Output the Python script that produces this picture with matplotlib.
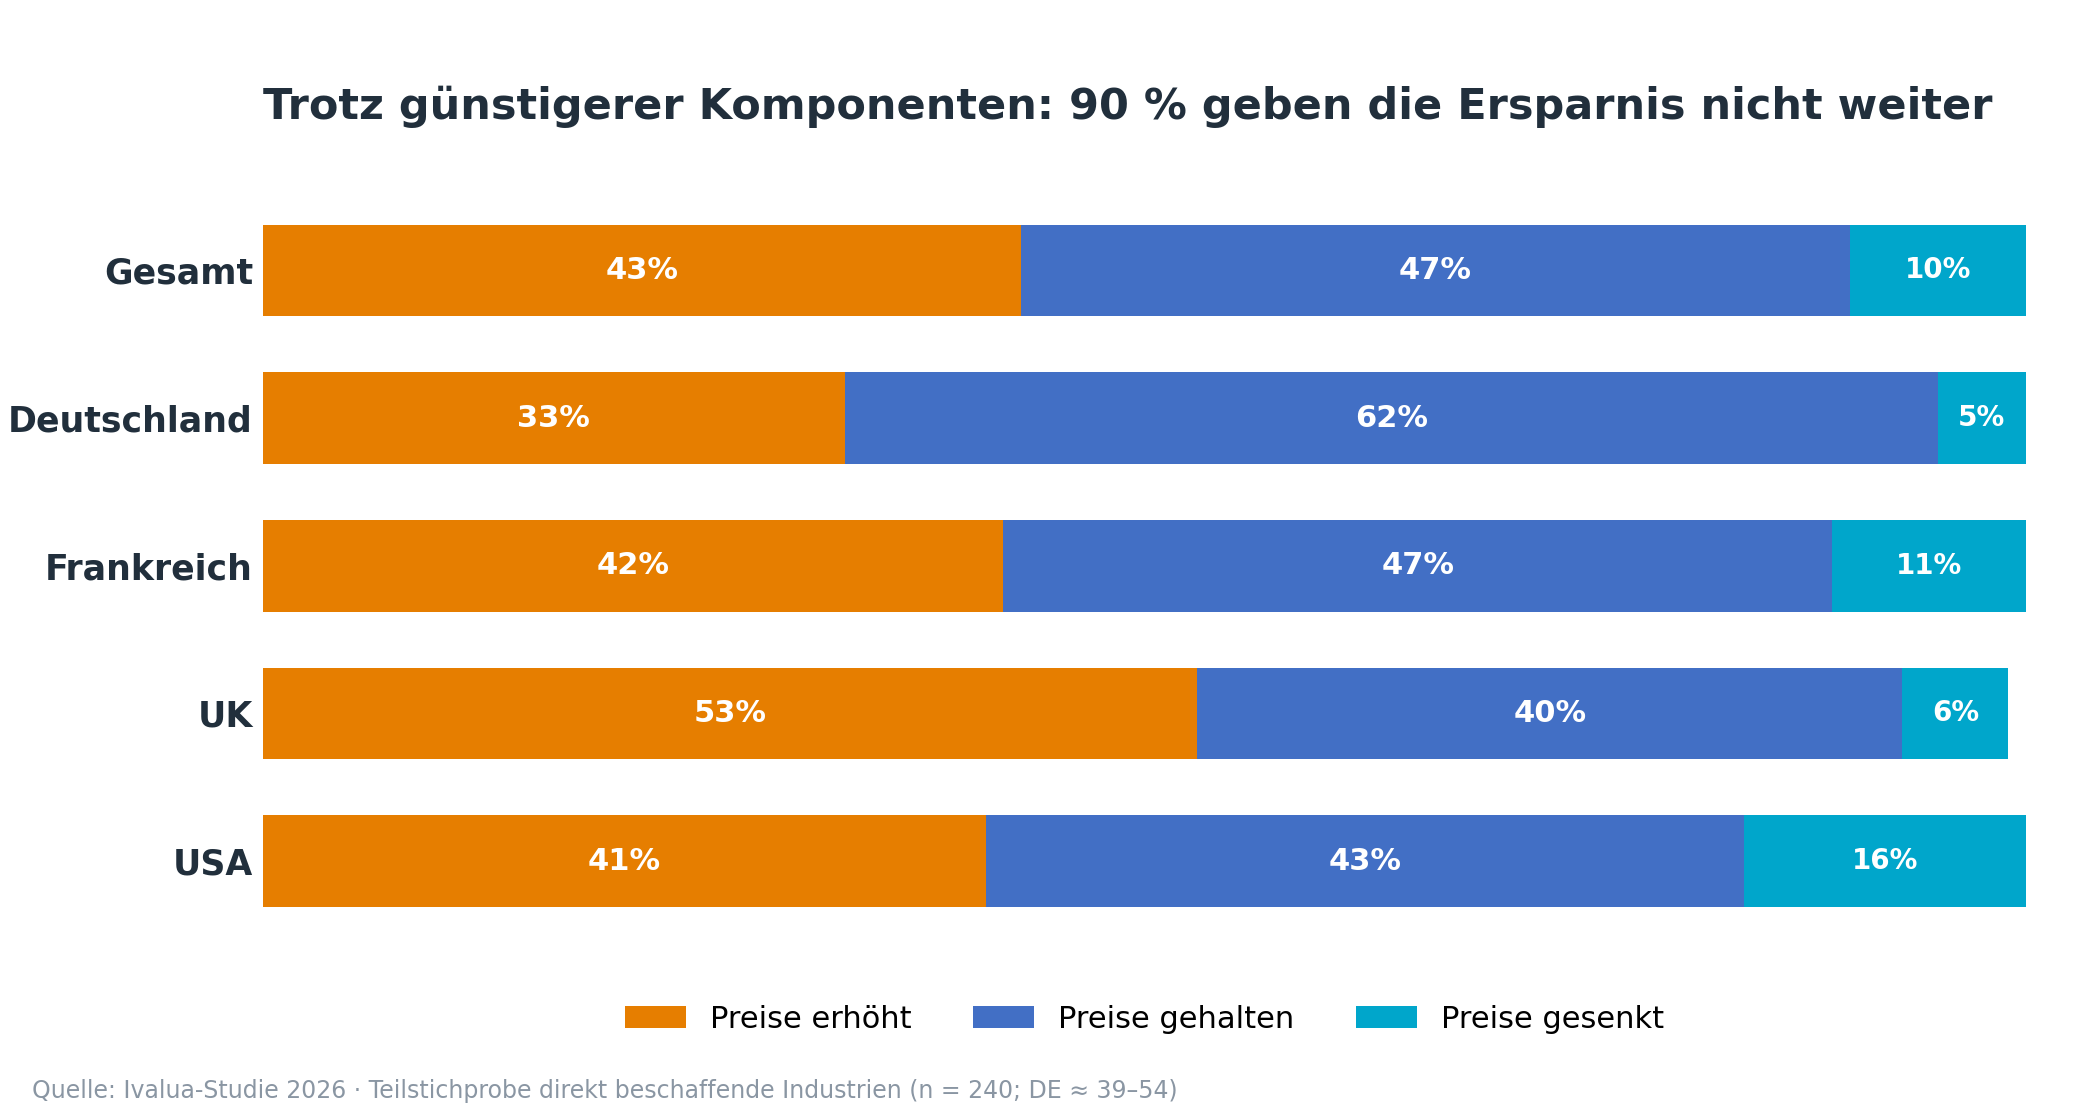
import numpy as np
import matplotlib
matplotlib.use("Agg")
import matplotlib.pyplot as plt

# Data
COUNTRIES = ["Gesamt", "Deutschland", "Frankreich", "UK", "USA"]
SERIES = ["Preise erhöht", "Preise gehalten", "Preise gesenkt"]
ERHOEHT = [43, 33, 42, 53, 41]
GEHALTEN = [47, 62, 47, 40, 43]
GESENKT = [10, 5, 11, 6, 16]

COLORS = ["#E67E00", "#426FC5", "#00A6CB"]
LABEL_SIZES = [11, 11, 10]
TEXT_DARK = "#212F3C"
TEXT_GREY = "#8A96A3"

TITLE = "Trotz günstigerer Komponenten: 90 % geben die Ersparnis nicht weiter"
SOURCE = ("Quelle: Ivalua-Studie 2026 · Teilstichprobe direkt beschaffende "
          "Industrien (n = 240; DE ≈ 39–54)")

plt.rcParams["font.family"] = ["DejaVu Sans"]

fig = plt.figure(figsize=(10.5, 5.6), dpi=200)
ax = fig.add_axes([0.1252, 0.1389, 0.8395, 0.7119])

y = np.arange(len(COUNTRIES))
left = np.zeros(len(COUNTRIES))
for vals, name, col, fs in zip([ERHOEHT, GEHALTEN, GESENKT], SERIES,
                               COLORS, LABEL_SIZES):
    vals = np.array(vals, dtype=float)
    ax.barh(y, vals, left=left, height=0.62, color=col, label=name,
            edgecolor="none")
    for yi, l, v in zip(y, left, vals):
        ax.text(l + v / 2, yi, f"{int(v)}%", ha="center", va="center",
                color="white", fontsize=fs, fontweight="bold")
    left += vals

ax.set_xlim(0, 100)
ax.set_ylim(4.7, -0.7)
ax.set_yticks(y)
ax.set_yticklabels(COUNTRIES, fontsize=12.5, fontweight="bold",
                   color=TEXT_DARK)
ax.tick_params(axis="y", length=0, pad=3.6)
ax.set_xticks([])
for s in ax.spines.values():
    s.set_visible(False)

fig.text(0.1252, 0.905, TITLE, ha="left", va="center", fontsize=15.5,
         fontweight="bold", color=TEXT_DARK)

fig.legend(loc="center", bbox_to_anchor=(0.545, 0.090), ncol=3,
           frameon=False, fontsize=11)

fig.text(0.0152, 0.0256, SOURCE, ha="left", va="center", fontsize=8.5,
         color=TEXT_GREY)

fig.savefig("out.png", dpi=200)
